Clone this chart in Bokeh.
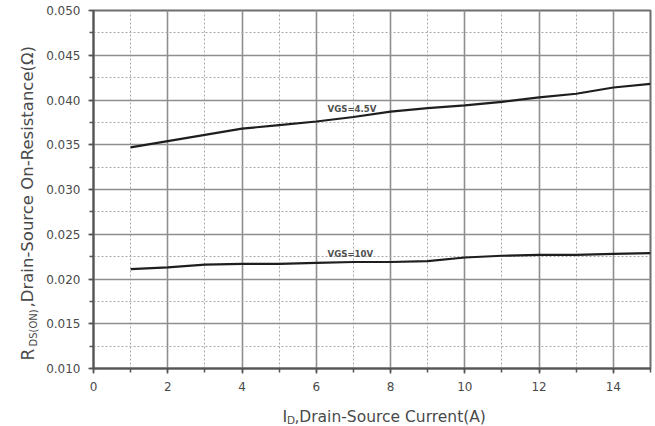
import math
from bokeh.plotting import figure
from bokeh.layouts import row, column
from bokeh.models import Range1d, SingleIntervalTicker, NumeralTickFormatter, Label
from bokeh.core.properties import value
from bokeh.embed import file_html
from bokeh.resources import INLINE

# ---- data ----
current_a = [1, 2, 3, 4, 5, 6, 7, 8, 9, 10, 11, 12, 13, 14, 15]
rds_vgs45 = [0.0347, 0.0354, 0.0361, 0.0368, 0.0372, 0.0376, 0.0381, 0.0387,
             0.0391, 0.0394, 0.0398, 0.0403, 0.0407, 0.0414, 0.0418]
rds_vgs10 = [0.0211, 0.0213, 0.0216, 0.0217, 0.0217, 0.0218, 0.0219, 0.0219,
             0.0220, 0.0224, 0.0226, 0.0227, 0.0227, 0.0228, 0.0229]
series_labels = ["VGS=4.5V", "VGS=10V"]
x_title = ["I", "D", ",Drain-Source Current(A)"]
y_title = ["R", "DS(ON)", ",Drain-Source On-Resistance(\u03a9)"]

X0, X1 = 0, 15
Y0, Y1 = 0.010, 0.050

TXT = "#4a4a4a"
FONT = "DejaVu Sans"

TOTAL_H = 426
LW = 42            # left title strip width
MW, MH = 610, 396  # main figure
BL, BR, BT, BB = 51, 2, 10, 28
FW = MW - BL - BR
FH = MH - BT - BB

p = figure(width=MW, height=MH, output_backend="svg", toolbar_location=None,
           x_range=Range1d(X0, X1), y_range=Range1d(Y0, Y1),
           min_border_left=BL, min_border_right=BR, min_border_top=BT,
           min_border_bottom=BB, background_fill_color="white",
           border_fill_color="white")

p.outline_line_color = "#6e6e6e"
p.outline_line_width = 2

p.xaxis.ticker = SingleIntervalTicker(interval=2, num_minor_ticks=2)
p.yaxis.ticker = SingleIntervalTicker(interval=0.005, num_minor_ticks=2)
p.yaxis.formatter = NumeralTickFormatter(format="0.000")
for ax in (p.xaxis, p.yaxis):
    ax.axis_line_color = "#555555"
    ax.axis_line_width = 2
    ax.major_tick_line_color = "#555555"
    ax.minor_tick_line_color = "#555555"
    ax.major_tick_line_width = 1.5
    ax.minor_tick_line_width = 1.5
    ax.major_tick_in = 0
    ax.major_tick_out = 5
    ax.minor_tick_in = 0
    ax.minor_tick_out = 4
    ax.major_label_text_font = FONT
    ax.major_label_text_font_size = "12px"
    ax.major_label_text_color = TXT
    ax.major_label_standoff = 8

p.xgrid.grid_line_color = "#8e8e8e"
p.ygrid.grid_line_color = "#8e8e8e"
p.xgrid.grid_line_width = 1.6
p.ygrid.grid_line_width = 1.6
p.xgrid.minor_grid_line_color = "#a8a8a8"
p.ygrid.minor_grid_line_color = "#a8a8a8"
p.xgrid.minor_grid_line_dash = "2 2"
p.ygrid.minor_grid_line_dash = "2 2"
p.xgrid.minor_grid_line_width = 1
p.ygrid.minor_grid_line_width = 1

p.line(current_a, rds_vgs45, line_color="#1e1e1e", line_width=2.2)
p.line(current_a, rds_vgs10, line_color="#1e1e1e", line_width=2.2)

FRAME_LEFT = LW + BL   # image x of frame left
FRAME_TOP = BT         # image y of frame top


def dx(px):
    return X0 + (px - FRAME_LEFT) / FW * (X1 - X0)


def dy(py):
    return Y1 - (py - FRAME_TOP) / FH * (Y1 - Y0)


p.add_layout(Label(x=dx(327), y=dy(108), text=series_labels[0], text_font=FONT,
                   text_font_style="bold", text_font_size="8.6px", text_color="#505050",
                   text_baseline="middle"))
p.add_layout(Label(x=dx(327), y=dy(253), text=series_labels[1], text_font=FONT,
                   text_font_style="bold", text_font_size="8.6px", text_color="#505050",
                   text_baseline="middle"))


def strip(w, h):
    f = figure(width=w, height=h, output_backend="svg", toolbar_location=None,
               x_range=Range1d(0, w), y_range=Range1d(0, h), min_border=0,
               background_fill_color="white", border_fill_color="white")
    f.axis.visible = False
    f.grid.visible = False
    f.outline_line_color = None
    return f


# left strip: rotated y title (coords: x = image x, y = 426 - image y)
left = strip(LW, TOTAL_H)
left.text(x=[27], y=[TOTAL_H - 360], text=[y_title[0]], angle=math.pi / 2,
          text_font=value(FONT), text_font_size=value("17px"), text_color=TXT,
          text_baseline="alphabetic", text_align="left")
left.text(x=[33], y=[TOTAL_H - 346], text=[y_title[1]], angle=math.pi / 2,
          text_font=value(FONT), text_font_size=value("10px"), text_color=TXT,
          text_baseline="alphabetic", text_align="left")
left.text(x=[27], y=[TOTAL_H - 307], text=[y_title[2]], angle=math.pi / 2,
          text_font=value(FONT), text_font_size=value("16.5px"), text_color=TXT,
          text_baseline="alphabetic", text_align="left")

# bottom strip: x title (coords: x = image x - LW, y = 426 - image y)
BH = TOTAL_H - MH
bottom = strip(MW, BH)
bottom.text(x=[249 - LW], y=[TOTAL_H - 416], text=[x_title[0]],
            text_font=value(FONT), text_font_size=value("16px"), text_color=TXT,
            text_baseline="alphabetic", text_align="left")
bottom.text(x=[254 - LW], y=[TOTAL_H - 419], text=[x_title[1]],
            text_font=value(FONT), text_font_size=value("10.5px"), text_color=TXT,
            text_baseline="alphabetic", text_align="left")
bottom.text(x=[262 - LW], y=[TOTAL_H - 416], text=[x_title[2]],
            text_font=value(FONT), text_font_size=value("15.5px"), text_color=TXT,
            text_baseline="alphabetic", text_align="left")

layout = row(left, column(p, bottom, spacing=0), spacing=0)

open("out.html", "w").write(file_html(layout, INLINE))
